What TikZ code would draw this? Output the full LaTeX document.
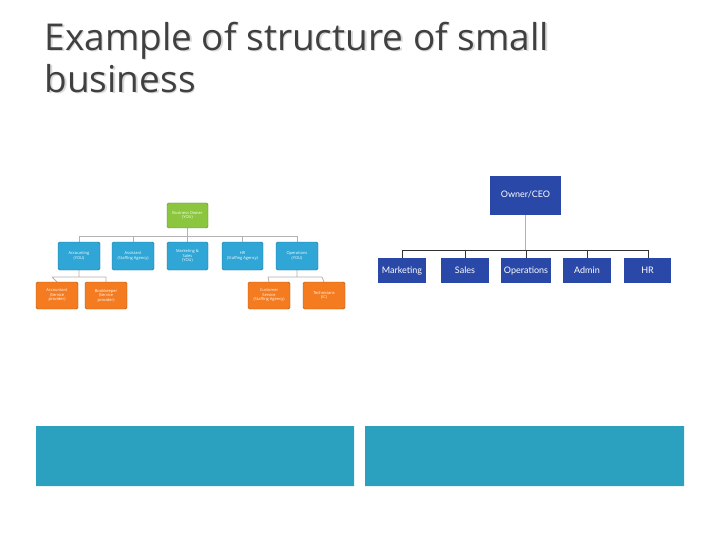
\documentclass[tikz,border=0pt]{standalone}
\usepackage{fontspec}
\setmainfont{Open Sans}
\newfontfamily\lato{Lato}
\definecolor{teal1}{HTML}{2BA1BF}
\definecolor{navy1}{HTML}{2A48A8}
\definecolor{grn1}{HTML}{8CC63E}
\definecolor{blu1}{HTML}{2FA6D6}
\definecolor{org1}{HTML}{F47B20}
\begin{document}
\begin{tikzpicture}[x=1pt,y=-1pt,
 gb/.style={fill=grn1,draw=grn1!70!black,rounded corners=1.5pt},
 bb/.style={fill=blu1,draw=blu1!70!black,rounded corners=1.5pt},
 ob/.style={fill=org1,draw=org1!70!black,rounded corners=1.5pt},
 sm/.style={font=\fontsize{4}{4.5}\selectfont,text=white,align=center},
 nb/.style={fill=navy1,text=white,font=\lato\fontsize{9}{10}\selectfont,text height=7pt,text depth=2pt},
 ln/.style={draw=gray!60,line width=0.8pt},
 dl/.style={draw=black!80,line width=1pt}]
\useasboundingbox (0,0) rectangle (720,540);
\fill[white] (0,0) rectangle (720,540);
\node[anchor=north west,text=gray!30,align=left,font=\fontsize{37}{42}\selectfont] at (42.5,20) {Example of structure of small\\business};
\node[anchor=north west,text=black!75,align=left,font=\fontsize{37}{42}\selectfont] (title) at (41,18.5) {Example of structure of small\\business};
% left chart
\coordinate (lb) at (187,236);
\coordinate (la) at (79,277);
\coordinate (lc) at (297,277);
\draw[ln] (187,228) -- (lb) (79,236) -- (297,236);
\foreach \x in {79,133,187,242,297} \draw[ln] (\x,236) -- (\x,242);
\draw[ln] (79,270) -- (la) (52,277) -- (106,277) (52,277)--(57,282) (106,277)--(106,282);
\draw[ln] (297,270) -- (lc) (268,277) -- (322,277) (268,277)--(269,282) (322,277)--(324,282);
\path[gb] (167,203) rectangle (208,228);
\node[sm] (bo) at (187.5,215.5) {Business Owner\\(YOU)};
\path[bb] (58,242) rectangle (100,270) (112,242) rectangle (154,270) (167,242) rectangle (208,270) (222,242) rectangle (263,270) (276,242) rectangle (318,270);
\node[sm] (acc) at (79,256) {Accounting\\(YOU)};
\node[sm] (ass) at (133,256) {Assistant\\(Staffing Agency)};
\node[sm] (mkt) at (187.5,256) {Marketing \&\\Sales\\(YOU)};
\node[sm] (hrl) at (242.5,256) {HR\\(Staffing Agency)};
\node[sm] (ops) at (297,256) {Operations\\(YOU)};
\path[ob] (36,282) rectangle (78,309) (85,282) rectangle (127,309) (248,282) rectangle (290,309) (303,282) rectangle (345,309);
\node[sm] (act) at (57,295.5) {Accountant\\(Service\\provider)};
\node[sm] (bk) at (106,295.5) {Bookkeeper\\(Service\\provider)};
\node[sm] (cs) at (269,295.5) {Customer\\Service\\(Staffing Agency)};
\node[sm] (tech) at (324,295.5) {Technicians\\(IC)};
% right chart
\draw[draw=gray!60,line width=1pt] (525.5,215) -- (525.5,250);
\draw[dl] (402,250) -- (648,250);
\foreach \x in {402,465,526,587,648} \draw[dl] (\x,250) -- (\x,258);
\node[nb,minimum width=71pt,minimum height=39pt] (ceo) at (525.5,195.5) {Owner/CEO};
\node[nb,minimum width=48pt,minimum height=25pt] (m) at (402,270.5) {Marketing};
\node[nb,minimum width=48pt,minimum height=25pt] (s) at (465,270.5) {Sales};
\node[nb,minimum width=48pt,minimum height=25pt] (o) at (526,270.5) {Operations};
\node[nb,minimum width=48pt,minimum height=25pt] (a) at (587,270.5) {Admin};
\node[nb,minimum width=47pt,minimum height=25pt] (h) at (647.5,270.5) {HR};
% bottom boxes
\fill[teal1] (36,426) rectangle (354,486) (365,426) rectangle (684,486);
\end{tikzpicture}
\end{document}
